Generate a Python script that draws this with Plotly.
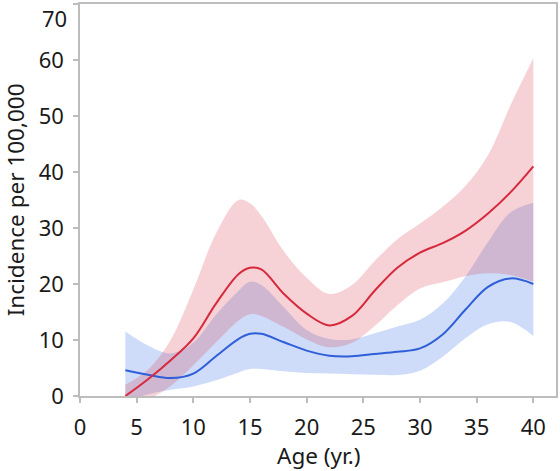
import plotly.graph_objects as go

age = [4, 6, 8, 10, 12, 14, 15, 16, 18, 20, 22, 24, 26, 28, 30, 32, 34, 36, 38, 40]

red_mean = [0, 3.0, 6.4, 10.3, 16.5, 21.8, 22.9, 22.6, 18.2, 14.7, 12.6, 14.3, 18.8, 22.9, 25.6, 27.3, 29.5, 32.6, 36.4, 41.0]
red_upper = [2, 4.7, 10, 19, 29, 35, 34.4, 32.2, 25.8, 21.1, 18.2, 19.8, 24.1, 28.0, 30.8, 33.8, 37.5, 43.0, 52.0, 60.3]
red_lower = [-2, -0.6, 1.8, 5.5, 9.6, 13.5, 14.6, 14.3, 12.3, 10.1, 8.7, 9.5, 12.5, 16.2, 19.2, 20.3, 21.4, 21.9, 21.6, 20.4]

blue_mean = [4.6, 3.8, 3.2, 4.0, 7.1, 10.2, 11.1, 11.1, 9.6, 8.1, 7.2, 7.1, 7.5, 7.9, 8.5, 11.0, 15.4, 19.5, 21.0, 20.0]
blue_upper = [11.5, 9.0, 7.6, 9.5, 14.5, 18.8, 20.4, 19.8, 15.8, 11.8, 10.2, 10.1, 11.2, 12.4, 13.6, 16.5, 21.3, 27.5, 32.8, 34.5]
blue_lower = [-1, 0.3, 1.1, 1.7, 2.8, 4.2, 4.8, 4.8, 4.4, 4.1, 4.0, 3.9, 3.8, 3.75, 4.5, 7.0, 10.3, 12.8, 13.2, 10.7]

x_ticks = [0, 5, 10, 15, 20, 25, 30, 35, 40]
y_ticks = [0, 10, 20, 30, 40, 50, 60, 70]

RED = "#d62a3c"
BLUE = "#2f5fd8"
RED_FILL = "rgba(214,48,70,0.22)"
BLUE_FILL = "rgba(60,110,230,0.25)"
TXT = "#1a1a1a"

fig = go.Figure()

def band(lower, upper, fill):
    fig.add_trace(go.Scatter(x=age, y=lower, mode="lines", line=dict(width=0, shape="spline"),
                             hoverinfo="skip", showlegend=False))
    fig.add_trace(go.Scatter(x=age, y=upper, mode="lines", line=dict(width=0, shape="spline"),
                             fill="tonexty", fillcolor=fill, hoverinfo="skip", showlegend=False))

band(blue_lower, blue_upper, BLUE_FILL)
band(red_lower, red_upper, RED_FILL)

fig.add_trace(go.Scatter(x=age, y=blue_mean, mode="lines",
                         line=dict(color=BLUE, width=2, shape="spline"), showlegend=False))
fig.add_trace(go.Scatter(x=age, y=red_mean, mode="lines",
                         line=dict(color=RED, width=2, shape="spline"), showlegend=False))

axis_common = dict(showgrid=False, zeroline=False, showline=True, linecolor="#bdbdbd",
                   linewidth=1.5, mirror=True, ticks="outside", tickcolor="#bdbdbd",
                   ticklen=5, tickwidth=1.5, tickfont=dict(size=22, color=TXT),
                   automargin=False)

# the top tick label is drawn as text nudged inside the figure (as in the reference)
y_labels = [str(v) if v != y_ticks[-1] else "" for v in y_ticks]

fig.update_xaxes(range=[0, 42], tickvals=x_ticks, ticklabelstandoff=6, **axis_common)
fig.update_yaxes(range=[0, 70], tickvals=y_ticks, ticktext=y_labels, ticklabelstandoff=5, **axis_common)

fig.add_annotation(text=str(y_ticks[-1]), xref="paper", yref="y", x=0, y=y_ticks[-1],
                   xanchor="right", yanchor="top", xshift=-11, yshift=3,
                   showarrow=False, font=dict(size=22, color=TXT))
fig.add_annotation(text="Age (yr.)", xref="paper", yref="paper", x=0.5, y=-0.153,
                   xanchor="center", yanchor="middle", showarrow=False,
                   font=dict(size=22.5, color=TXT))
fig.add_annotation(text="Incidence per 100,000", xref="paper", yref="paper", x=-0.136, y=0.5,
                   xanchor="center", yanchor="middle", textangle=-90, showarrow=False,
                   font=dict(size=22.5, color=TXT))

fig.update_layout(width=560, height=471, margin=dict(l=80, r=4, t=4, b=75),
                  plot_bgcolor="white", paper_bgcolor="white",
                  font=dict(family="Noto Sans, Open Sans, sans-serif", color=TXT))

fig.write_html("out.html", config={"displayModeBar": False},
               post_script="document.body.style.margin='0';document.body.style.overflow='hidden';")
